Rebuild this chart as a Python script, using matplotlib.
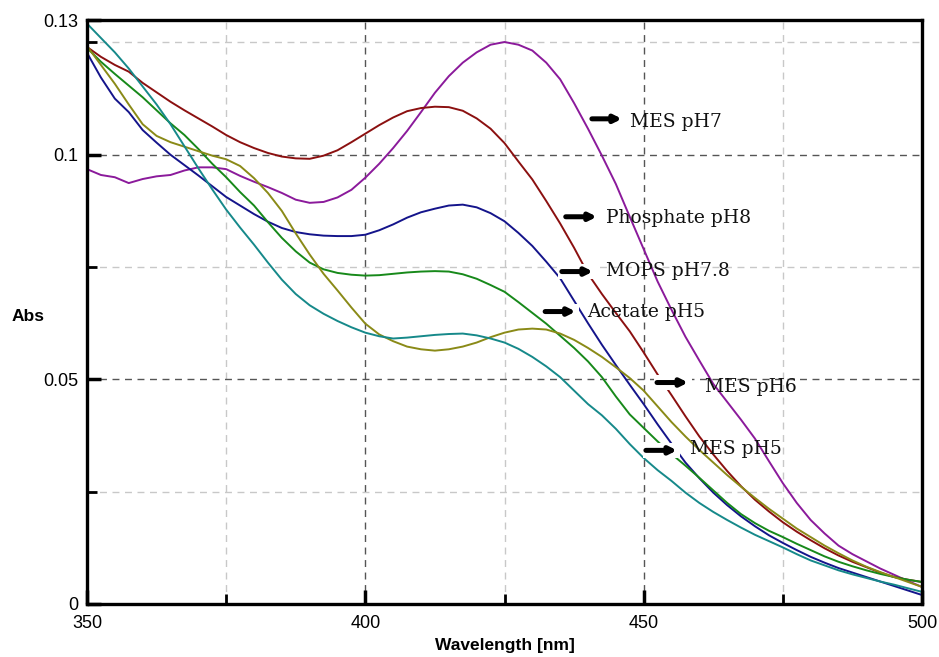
import matplotlib
matplotlib.use("Agg")
import matplotlib.pyplot as plt
from matplotlib.patches import Rectangle
from matplotlib.ticker import MultipleLocator

# wavelength grid (nm), 2.5 nm steps
wavelength = [350, 352.5, 355, 357.5, 360, 362.5, 365, 367.5, 370, 372.5,
              375, 377.5, 380, 382.5, 385, 387.5, 390, 392.5, 395, 397.5,
              400, 402.5, 405, 407.5, 410, 412.5, 415, 417.5, 420, 422.5,
              425, 427.5, 430, 432.5, 435, 437.5, 440, 442.5, 445, 447.5,
              450, 452.5, 455, 457.5, 460, 462.5, 465, 467.5, 470, 472.5,
              475, 477.5, 480, 482.5, 485, 487.5, 490, 492.5, 495, 497.5, 500]

mes_ph7 = [0.0968, 0.0955, 0.0950, 0.0937, 0.0946, 0.0952, 0.0955, 0.0965, 0.0972, 0.0972,
           0.0968, 0.0953, 0.0940, 0.0928, 0.0915, 0.0900, 0.0893, 0.0895, 0.0905, 0.0922,
           0.0949, 0.0980, 0.1015, 0.1053, 0.1095, 0.1138, 0.1175, 0.1205, 0.1228, 0.1245,
           0.1251, 0.1245, 0.1232, 0.1205, 0.1168, 0.1115, 0.1058, 0.0998, 0.0935, 0.0862,
           0.0790, 0.0718, 0.0655, 0.0595, 0.0542, 0.0490, 0.0450, 0.0410, 0.0368, 0.0318,
           0.0269, 0.0225, 0.0187, 0.0157, 0.0130, 0.0111, 0.0095, 0.0079, 0.0065, 0.0051, 0.0038]
phosphate_ph8 = [0.1240, 0.1218, 0.1200, 0.1185, 0.1160, 0.1139, 0.1118, 0.1099, 0.1081, 0.1063,
                 0.1044, 0.1028, 0.1015, 0.1004, 0.0996, 0.0992, 0.0991, 0.0998, 0.1010, 0.1028,
                 0.1047, 0.1066, 0.1083, 0.1097, 0.1104, 0.1107, 0.1106, 0.1098, 0.1081, 0.1058,
                 0.1026, 0.0985, 0.0945, 0.0897, 0.0847, 0.0793, 0.0735, 0.0690, 0.0648, 0.0607,
                 0.0560, 0.0511, 0.0465, 0.0418, 0.0373, 0.0333, 0.0296, 0.0262, 0.0232, 0.0206,
                 0.0182, 0.0161, 0.0142, 0.0124, 0.0108, 0.0094, 0.0082, 0.0070, 0.0060, 0.0054, 0.0049]
mops_ph78 = [0.1227, 0.1172, 0.1125, 0.1095, 0.1055, 0.1027, 0.1000, 0.0977, 0.0954, 0.0930,
             0.0906, 0.0887, 0.0868, 0.0851, 0.0837, 0.0828, 0.0823, 0.0820, 0.0819, 0.0819,
             0.0822, 0.0832, 0.0845, 0.0860, 0.0872, 0.0880, 0.0887, 0.0889, 0.0883, 0.0870,
             0.0852, 0.0826, 0.0797, 0.0762, 0.0725, 0.0675, 0.0625, 0.0577, 0.0532, 0.0488,
             0.0445, 0.0400, 0.0357, 0.0315, 0.0280, 0.0248, 0.0220, 0.0195, 0.0173, 0.0153,
             0.0136, 0.0120, 0.0105, 0.0092, 0.0080, 0.0070, 0.0060, 0.0050, 0.0040, 0.0030, 0.0020]
acetate_ph5 = [0.1238, 0.1207, 0.1180, 0.1154, 0.1128, 0.1099, 0.1070, 0.1044, 0.1013, 0.0980,
               0.0950, 0.0917, 0.0887, 0.0850, 0.0815, 0.0785, 0.0760, 0.0745, 0.0737, 0.0733,
               0.0731, 0.0732, 0.0735, 0.0738, 0.0740, 0.0741, 0.0740, 0.0734, 0.0724, 0.0710,
               0.0695, 0.0672, 0.0648, 0.0624, 0.0597, 0.0570, 0.0540, 0.0505, 0.0462, 0.0422,
               0.0392, 0.0362, 0.0334, 0.0308, 0.0281, 0.0253, 0.0225, 0.0200, 0.0180, 0.0163,
               0.0149, 0.0134, 0.0120, 0.0106, 0.0094, 0.0084, 0.0075, 0.0067, 0.0060, 0.0054, 0.0049]
mes_ph6 = [0.1242, 0.1200, 0.1158, 0.1112, 0.1068, 0.1042, 0.1028, 0.1018, 0.1008, 0.0998,
           0.0990, 0.0975, 0.0948, 0.0915, 0.0875, 0.0825, 0.0778, 0.0735, 0.0698, 0.0660,
           0.0624, 0.0600, 0.0585, 0.0573, 0.0567, 0.0564, 0.0567, 0.0573, 0.0582, 0.0594,
           0.0604, 0.0611, 0.0613, 0.0611, 0.0602, 0.0588, 0.0570, 0.0550, 0.0527, 0.0503,
           0.0475, 0.0440, 0.0405, 0.0373, 0.0343, 0.0315, 0.0287, 0.0261, 0.0236, 0.0212,
           0.0190, 0.0168, 0.0149, 0.0130, 0.0113, 0.0097, 0.0083, 0.0071, 0.0060, 0.0049, 0.0038]
mes_ph5 = [0.1292, 0.1260, 0.1228, 0.1192, 0.1152, 0.1112, 0.1068, 0.1019, 0.0970, 0.0923,
           0.0878, 0.0838, 0.0800, 0.0760, 0.0722, 0.0690, 0.0665, 0.0646, 0.0630, 0.0616,
           0.0604, 0.0596, 0.0591, 0.0593, 0.0596, 0.0599, 0.0601, 0.0602, 0.0598, 0.0591,
           0.0582, 0.0568, 0.0550, 0.0529, 0.0505, 0.0475, 0.0445, 0.0420, 0.0390, 0.0356,
           0.0325, 0.0298, 0.0274, 0.0248, 0.0225, 0.0205, 0.0187, 0.0170, 0.0154, 0.0140,
           0.0126, 0.0111, 0.0097, 0.0086, 0.0075, 0.0066, 0.0058, 0.0050, 0.0043, 0.0035, 0.0027]

series = [mes_ph7, phosphate_ph8, mops_ph78, acetate_ph5, mes_ph6, mes_ph5]
colors = ["#8b1a9b", "#8b1010", "#14148b", "#17891a", "#8a8a17", "#16898a"]

labels = ["MES pH7", "Phosphate pH8", "MOPS pH7.8", "Acetate pH5", "MES pH6", "MES pH5"]
# arrow start, arrow end, y, text x, text y
label_pos = [(440.7, 446.1, 0.1080, 447.6, 0.1072),
             (436.0, 441.6, 0.0862, 443.2, 0.0860),
             (435.3, 440.9, 0.0740, 443.2, 0.0742),
             (432.3, 437.8, 0.0651, 439.8, 0.0649),
             (452.4, 458.0, 0.0493, 461.0, 0.0484),
             (450.4, 456.0, 0.0342, 458.3, 0.0344)]

fig = plt.figure(figsize=(9.39, 6.57), dpi=100)
ax = fig.add_axes([87 / 939, 1 - 604 / 657, 835 / 939, 584 / 657])

for y, c in zip(series, colors):
    ax.plot(wavelength, y, color=c, lw=1.4, zorder=2)

for name, (x0, x1, y, tx, ty) in zip(labels, label_pos):
    # small white gap in the curves behind each marker
    ax.add_patch(Rectangle((x0 - 0.6, y - 0.0017), x1 - x0 + 1.2, 0.0034,
                           facecolor="white", edgecolor="none", zorder=3))
    ax.annotate("", xy=(x1, y), xytext=(x0, y),
                arrowprops=dict(arrowstyle="-|>,head_length=0.4,head_width=0.2",
                                color="black", lw=3.6, shrinkA=0, shrinkB=0),
                zorder=4)
    ax.text(tx, ty, name, family="DejaVu Serif", fontsize=13.5,
            va="center", ha="left", color="#111111", zorder=5)

ax.set_xlim(350, 500)
ax.set_ylim(0, 0.13)
ax.set_xticks([350, 400, 450, 500])
ax.set_xticklabels(["350", "400", "450", "500"])
ax.xaxis.set_minor_locator(MultipleLocator(25))
ax.set_yticks([0, 0.05, 0.1, 0.13])
ax.set_yticklabels(["0", "0.05", "0.1", "0.13"])
ax.set_yticks([0.025, 0.075, 0.125], minor=True)

ax.grid(True, which="major", color="#555555", ls=(0, (5, 4)), lw=1.0)
ax.grid(True, which="minor", color="#c8c8c8", ls=(0, (5, 4)), lw=1.0)
ax.set_axisbelow(True)

ax.tick_params(which="major", direction="in", length=10, width=2.5, labelsize=13)
ax.tick_params(axis="x", which="major", pad=8)
ax.tick_params(axis="y", which="major", pad=6)
ax.tick_params(which="minor", direction="in", length=7, width=2)
for lab in ax.get_xticklabels() + ax.get_yticklabels():
    lab.set_family("Liberation Sans")
for s in ax.spines.values():
    s.set_linewidth(2.4)

ax.set_xlabel("Wavelength [nm]", fontsize=12.5, fontweight="bold", family="Liberation Sans")
ax.xaxis.set_label_coords(0.5, -0.058)
ax.set_ylabel("Abs", fontsize=12.5, fontweight="bold", family="Liberation Sans", rotation=0)
ax.yaxis.set_label_coords(-0.071, 0.48)

fig.savefig("out.png", dpi=100)
